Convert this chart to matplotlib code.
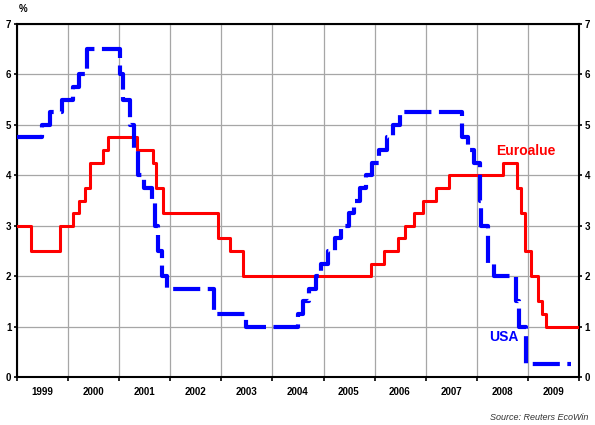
import matplotlib
matplotlib.use("Agg")
import matplotlib.pyplot as plt
import matplotlib.dates as mdates
from datetime import datetime

# ECB main refinancing rate (Euroalue)
ecb_dates = ["1999-01-01", "1999-04-09", "1999-11-05", "2000-02-04", "2000-03-17",
             "2000-04-28", "2000-06-09", "2000-09-06", "2000-10-11", "2001-05-11",
             "2001-08-31", "2001-09-18", "2001-11-09", "2002-12-06", "2003-03-07",
             "2003-06-06", "2005-12-06", "2006-03-08", "2006-06-15", "2006-08-09",
             "2006-10-11", "2006-12-13", "2007-03-14", "2007-06-13", "2008-07-09",
             "2008-10-15", "2008-11-12", "2008-12-10", "2009-01-21", "2009-03-11",
             "2009-04-08", "2009-05-13", "2009-12-20"]
ecb_rates = [3.0, 2.5, 3.0, 3.25, 3.5, 3.75, 4.25, 4.5, 4.75, 4.5,
             4.25, 3.75, 3.25, 2.75, 2.5, 2.0, 2.25, 2.5, 2.75, 3.0,
             3.25, 3.5, 3.75, 4.0, 4.25, 3.75, 3.25, 2.5, 2.0, 1.5,
             1.25, 1.0, 1.0]

# US Fed funds target rate (USA)
fed_dates = ["1999-01-01", "1999-06-30", "1999-08-24", "1999-11-16", "2000-02-02",
             "2000-03-21", "2000-05-16", "2001-01-03", "2001-01-31", "2001-03-20",
             "2001-04-18", "2001-05-15", "2001-06-27", "2001-08-21", "2001-09-17",
             "2001-10-02", "2001-11-06", "2001-12-11", "2002-11-06", "2003-06-25",
             "2004-06-30", "2004-08-10", "2004-09-21", "2004-11-10", "2004-12-14",
             "2005-02-02", "2005-03-22", "2005-05-03", "2005-06-30", "2005-08-09",
             "2005-09-20", "2005-11-01", "2005-12-13", "2006-01-31", "2006-03-28",
             "2006-05-10", "2006-06-29", "2007-09-18", "2007-10-31", "2007-12-11",
             "2008-01-22", "2008-01-30", "2008-03-18", "2008-04-30", "2008-10-08",
             "2008-10-29", "2008-12-16", "2009-11-05"]
fed_rates = [4.75, 5.0, 5.25, 5.5, 5.75, 6.0, 6.5, 6.0, 5.5, 5.0,
             4.5, 4.0, 3.75, 3.5, 3.0, 2.5, 2.0, 1.75, 1.25, 1.0,
             1.25, 1.5, 1.75, 2.0, 2.25, 2.5, 2.75, 3.0, 3.25, 3.5,
             3.75, 4.0, 4.25, 4.5, 4.75, 5.0, 5.25, 4.75, 4.5, 4.25,
             3.5, 3.0, 2.25, 2.0, 1.5, 1.0, 0.25, 0.25]

years = list(range(1999, 2010))
yticks = list(range(0, 8))

plt.rcParams['font.family'] = ['Liberation Sans', 'DejaVu Sans']

fig = plt.figure(figsize=(5.95, 4.25), dpi=100)
ax = fig.add_axes([17/595, 48/425, 562/595, 353/425])

ed = [datetime.strptime(d, "%Y-%m-%d") for d in ecb_dates]
fd = [datetime.strptime(d, "%Y-%m-%d") for d in fed_dates]

ax.step(ed, ecb_rates, where='post', color='#ff0000', lw=2.2, zorder=3)
ax.step(fd, fed_rates, where='post', color='#0000ff', lw=3.0,
        linestyle=(0, (6.5, 1.8)), zorder=4)

ax.set_xlim(datetime(1999, 1, 1), datetime(2010, 1, 1))
ax.set_ylim(0, 7)

ax.set_xticks([datetime(y, 1, 1) for y in years] + [datetime(2010, 1, 1)])
ax.set_xticklabels([])
ax.set_xticks([datetime(y, 7, 1) for y in years], minor=True)
ax.set_xticklabels([str(y) for y in years], minor=True, fontsize=7, fontweight='bold')
ax.tick_params(axis='x', which='major', length=3, width=1.2, direction='out')
ax.tick_params(axis='x', which='minor', length=0, pad=7)

ax.set_yticks(yticks)
ax.set_yticklabels([str(v) for v in yticks], fontsize=7, fontweight='bold')
ax.tick_params(axis='y', which='major', length=2, width=1.2, direction='out',
               left=True, right=True, labelleft=True, labelright=True, pad=2)

ax.grid(True, which='major', color='#a6a6a6', lw=0.9, zorder=0)
ax.set_axisbelow(True)
for s in ax.spines.values():
    s.set_linewidth(1.5)
    s.set_color('black')

ax.text(datetime(2008, 12, 20), 4.48, "Euroalue", color='#ff0000', fontsize=10,
        fontweight='bold', ha='center', va='center', zorder=5)
ax.text(datetime(2008, 7, 12), 0.79, "USA", color='#0000ff', fontsize=10,
        fontweight='bold', ha='center', va='center', zorder=5)

fig.text(23/595, 1 - 9/425, "%", fontsize=7, fontweight='bold', ha='center', va='center')
fig.text(588/595, 1 - 417/425, "Source: Reuters EcoWin", fontsize=6.5, style='italic',
         ha='right', va='center', color='#333333')

fig.savefig("out.png", dpi=100)
